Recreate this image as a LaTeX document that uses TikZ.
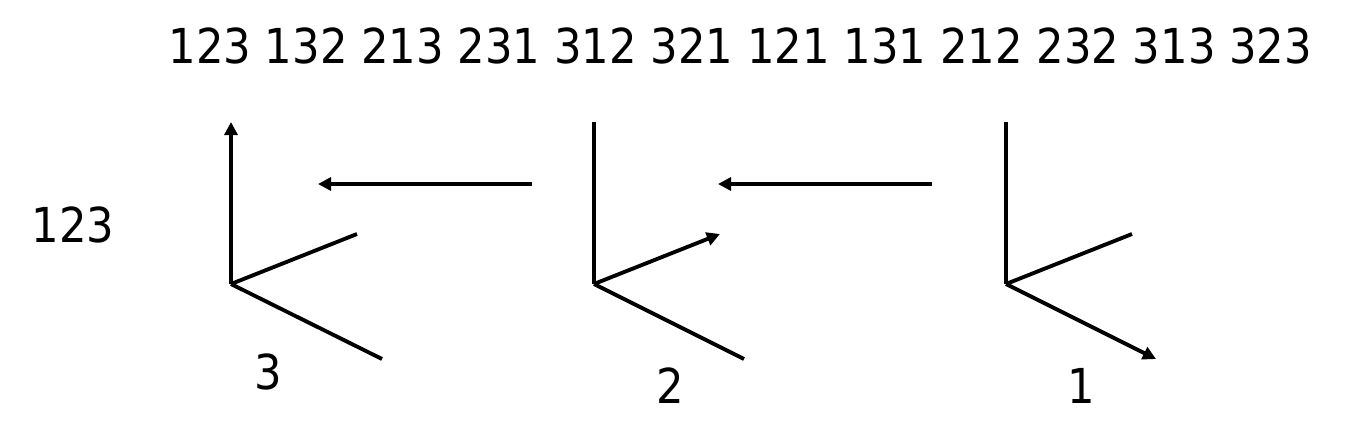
\documentclass[tikz,border=0pt]{standalone}
\usepackage{fontspec}
\usetikzlibrary{arrows.meta}
\setmainfont[FakeStretch=0.9]{DejaVu Sans}
\tikzset{
    every node/.style={inner sep=0pt,outer sep=0pt,font=\fontsize{27.4pt}{32pt}\selectfont},
    axis/.style={line width=2.2pt,black},
    arrowaxis/.style={axis,-{Triangle[length=7.5pt,width=7.5pt]}},
}
\begin{document}
\begin{tikzpicture}[x=0.02cm,y=-0.02cm]
    \useasboundingbox (0,0) rectangle (1356,443);
    \node (header) at (740.5,46) {123 132 213 231 312 321 121 131 212 232 313 323};
    \node (rowlabel) at (73,225) {123};
    % left set of axes
    \coordinate (ao) at (231,284);
    \coordinate (au) at (231,122);
    \coordinate (ar) at (357,234);
    \coordinate (ad) at (382,359);
    \draw[arrowaxis] (ao) -- (au);
    \draw[axis] (ao) -- (ar);
    \draw[axis] (ao) -- (ad);
    % middle set of axes
    \coordinate (bo) at (594,284);
    \coordinate (bu) at (594,122);
    \coordinate (br) at (720,234);
    \coordinate (bd) at (744,359);
    \draw[axis] (bo) -- (bu);
    \draw[arrowaxis] (bo) -- (br);
    \draw[axis] (bo) -- (bd);
    % right set of axes
    \coordinate (co) at (1006,284);
    \coordinate (cu) at (1006,122);
    \coordinate (cr) at (1132,234);
    \coordinate (cd) at (1156,359);
    \draw[axis] (co) -- (cu);
    \draw[axis] (co) -- (cr);
    \draw[arrowaxis] (co) -- (cd);
    % moves between the axes
    \coordinate (mbstart) at (532,184);
    \coordinate (mbend) at (318,184);
    \coordinate (mcstart) at (932,184);
    \coordinate (mcend) at (718,184);
    \draw[arrowaxis] (mbstart) -- (mbend);
    \draw[arrowaxis] (mcstart) -- (mcend);
    \node (numthree) at (268,372) {3};
    \node (numtwo) at (670,386) {2};
    \node (numone) at (1081,386) {1};
\end{tikzpicture}
\end{document}
